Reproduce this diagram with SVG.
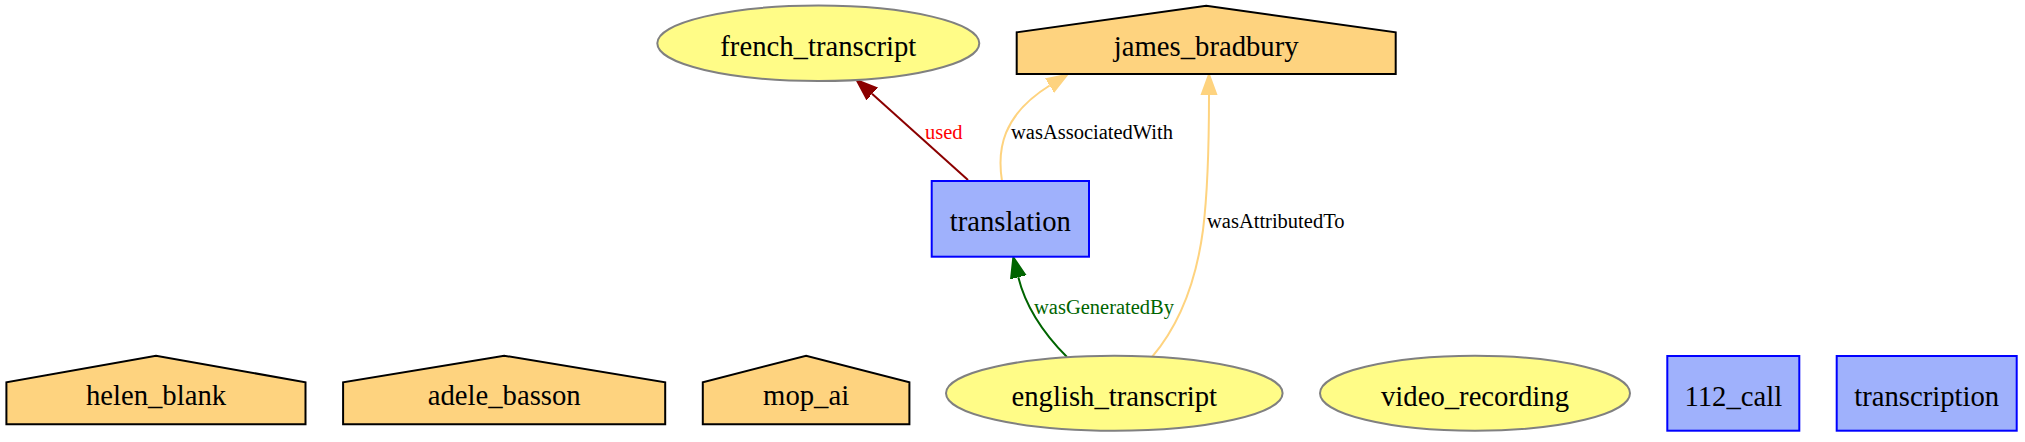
<svg xmlns="http://www.w3.org/2000/svg" width="2025" height="442" viewBox="0 0 2025 442">
<style>
  .lbl { font-family: "Liberation Serif", "Times New Roman", serif; font-size: 28.7px; text-anchor: middle; fill: #000; }
  .elbl { font-family: "Liberation Serif", "Times New Roman", serif; font-size: 20.5px; }
  .entity { fill: #FFFC87; stroke: #808080; stroke-width: 2; }
  .activity { fill: #9FB1FC; stroke: #0000FF; stroke-width: 2; }
  .agent { fill: #FED37F; stroke: #000; stroke-width: 2; }
  .edge { fill: none; stroke-width: 2; }
</style>
<defs>
  <marker id="arr-red" markerUnits="userSpaceOnUse" viewBox="0 -9 23 18" markerWidth="23" markerHeight="18" refX="0" refY="0" orient="auto">
    <path d="M0,-7.5 L20.5,0 L0,7.5 z" fill="#8B0000" stroke="#8B0000" stroke-width="2"/>
  </marker>
  <marker id="arr-green" markerUnits="userSpaceOnUse" viewBox="0 -9 23 18" markerWidth="23" markerHeight="18" refX="0" refY="0" orient="auto">
    <path d="M0,-7.5 L20.5,0 L0,7.5 z" fill="#006400" stroke="#006400" stroke-width="2"/>
  </marker>
  <marker id="arr-agent" markerUnits="userSpaceOnUse" viewBox="0 -9 23 18" markerWidth="23" markerHeight="18" refX="0" refY="0" orient="auto">
    <path d="M0,-7.5 L20.5,0 L0,7.5 z" fill="#FED37F" stroke="#FED37F" stroke-width="2"/>
  </marker>
</defs>
<rect x="0" y="0" width="2025" height="442" fill="#fff"/>

<g id="edges">
  <g id="edge-used">
    <path class="edge" stroke="#8B0000" d="M968,180 L872,93.8" marker-end="url(#arr-red)"/>
    <text class="elbl" x="925" y="139" fill="#FF0000">used</text>
  </g>
  <g id="edge-wasAssociatedWith">
    <path class="edge" stroke="#FED37F" d="M1002,181 C997,150 1002,115 1049.7,85.5" marker-end="url(#arr-agent)"/>
    <text class="elbl" x="1011" y="139" fill="#000">wasAssociatedWith</text>
  </g>
  <g id="edge-wasAttributedTo">
    <path class="edge" stroke="#FED37F" d="M1152,357 C1175,330 1195,290 1203,230 C1208,190 1209,140 1209,95" marker-end="url(#arr-agent)"/>
    <text class="elbl" x="1207" y="228" fill="#000">wasAttributedTo</text>
  </g>
  <g id="edge-wasGeneratedBy">
    <path class="edge" stroke="#006400" d="M1067,357 C1045,335 1026,308 1018.3,277.2" marker-end="url(#arr-green)"/>
    <text class="elbl" x="1034" y="314" fill="#006400">wasGeneratedBy</text>
  </g>
</g>

<g id="french_transcript">
  <ellipse class="entity" cx="818.3" cy="43.3" rx="161" ry="37.7"/>
  <text class="lbl" x="818.3" y="56">french_transcript</text>
</g>
<g id="james_bradbury">
  <polygon class="agent" points="1016.7,74 1395.7,74 1395.7,32.3 1206.2,5.7 1016.7,32.3"/>
  <text class="lbl" x="1206.2" y="55.5">james_bradbury</text>
</g>
<g id="translation">
  <rect class="activity" x="931.7" y="181" width="157.3" height="75.7"/>
  <text class="lbl" x="1010.3" y="231">translation</text>
</g>
<g id="helen_blank">
  <polygon class="agent" points="6.4,424.3 305.5,424.3 305.5,382.3 156,355.7 6.4,382.3"/>
  <text class="lbl" x="156" y="405">helen_blank</text>
</g>
<g id="adele_basson">
  <polygon class="agent" points="343.1,424.3 665.2,424.3 665.2,382.3 504.2,355.7 343.1,382.3"/>
  <text class="lbl" x="504.2" y="405">adele_basson</text>
</g>
<g id="mop_ai">
  <polygon class="agent" points="702.8,424.3 909.4,424.3 909.4,382.3 806.1,355.7 702.8,382.3"/>
  <text class="lbl" x="806.1" y="405">mop_ai</text>
</g>
<g id="english_transcript">
  <ellipse class="entity" cx="1114.3" cy="393.2" rx="168.3" ry="37.5"/>
  <text class="lbl" x="1114.3" y="405.5">english_transcript</text>
</g>
<g id="video_recording">
  <ellipse class="entity" cx="1475" cy="393.2" rx="155" ry="37.5"/>
  <text class="lbl" x="1475" y="405.5">video_recording</text>
</g>
<g id="n112_call">
  <rect class="activity" x="1667.3" y="356" width="132" height="74.7"/>
  <text class="lbl" x="1733.3" y="405.5">112_call</text>
</g>
<g id="transcription">
  <rect class="activity" x="1836.7" y="356" width="180" height="74.7"/>
  <text class="lbl" x="1926.7" y="405.5">transcription</text>
</g>
</svg>
